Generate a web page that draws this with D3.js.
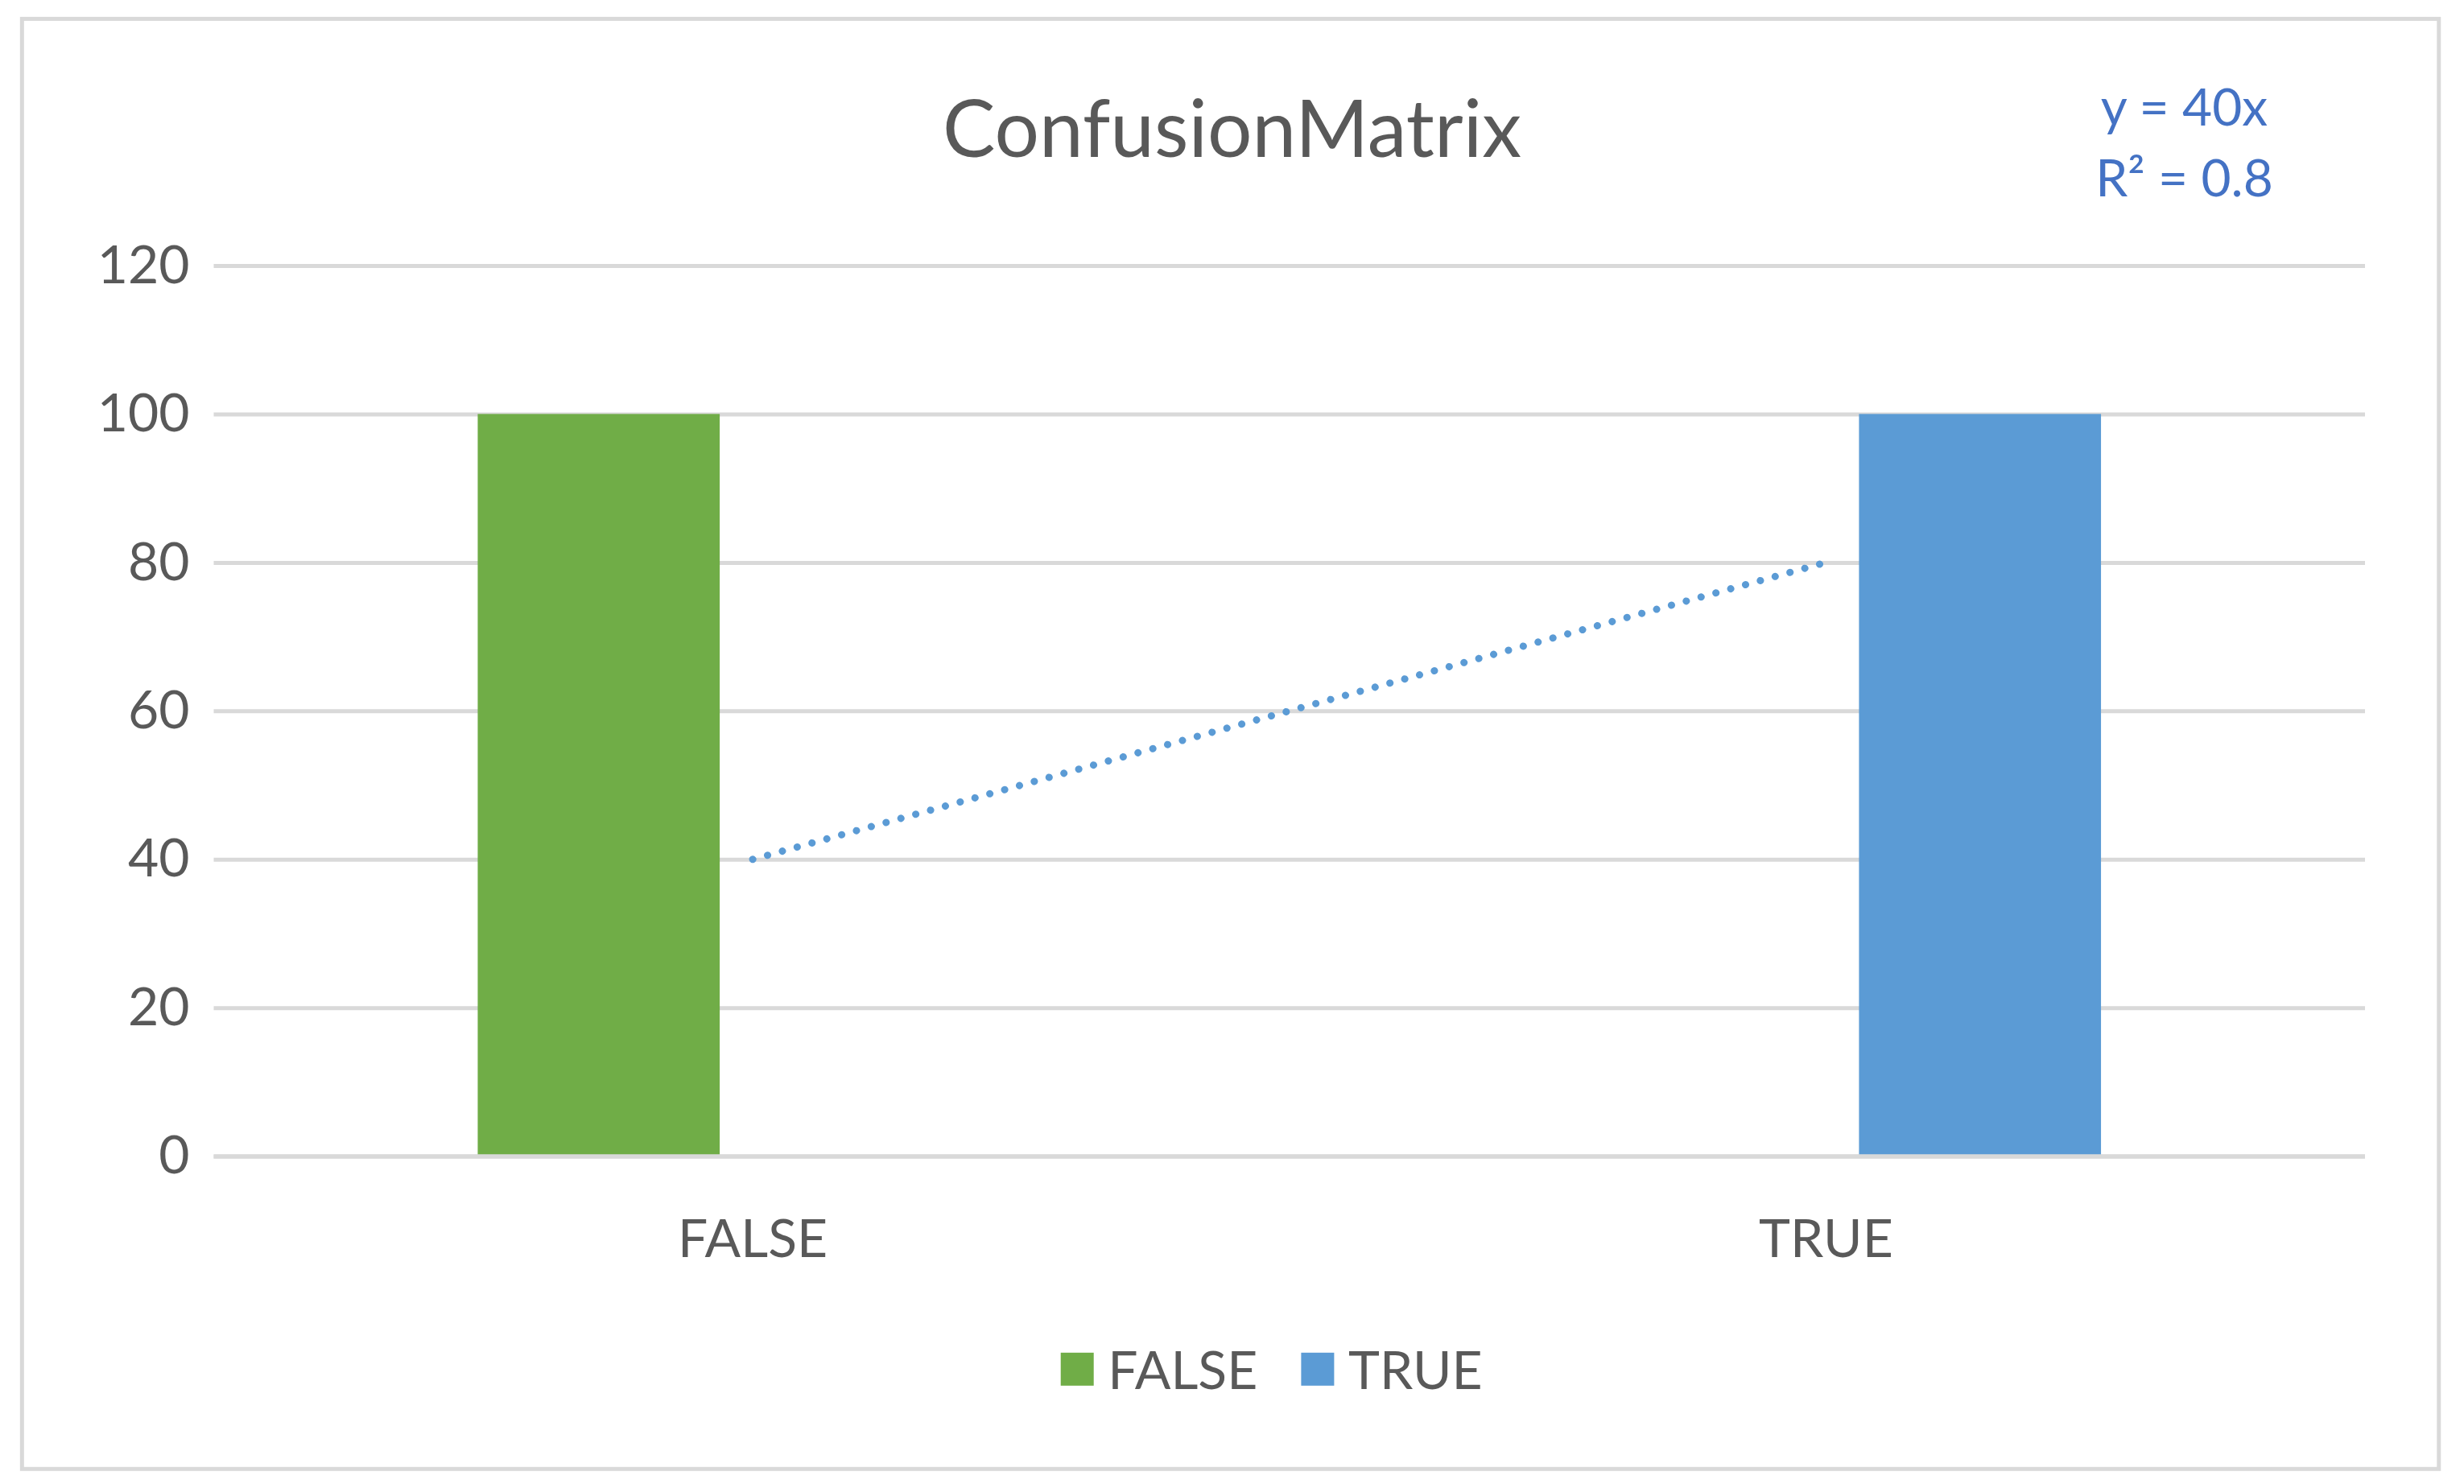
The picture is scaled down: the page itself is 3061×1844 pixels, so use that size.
<!DOCTYPE html>
<html><head><meta charset="utf-8">
<script src="https://cdn.jsdelivr.net/npm/d3@7"></script>
<style>body{margin:0;background:#fff}svg{display:block}</style>
</head><body>
<script>
const categories = ["FALSE", "TRUE"];
const seriesNames = ["FALSE", "TRUE"];
const seriesColors = ["#70ad47", "#5b9bd5"];
const falseValues = [100, 0];
const trueValues = [0, 100];
const yTicks = [0, 20, 40, 60, 80, 100, 120];
const trendX = [1, 2];
const trendSlope = 40;
const eqLines = ["y = 40x", "R² = 0.8"];
const titleText = "ConfusionMatrix";

const W = 3061, H = 1844, k = W / 1568;
const font = "Lato, 'Open Sans', sans-serif";
const svg = d3.select("body").append("svg").attr("width", W).attr("height", H);
svg.append("rect").attr("x", 14*k).attr("y", 12*k).attr("width", (1552-14)*k).attr("height", (935-12)*k)
  .attr("fill", "#fff").attr("stroke", "#d9d9d9").attr("stroke-width", 5);

const L = 136*k, R = 1505*k, T = 169*k, B = 736*k;
const y = d3.scaleLinear().domain([0, 120]).range([B, T]);
const x = d3.scaleBand().domain(categories).range([L, R]).paddingInner(0).paddingOuter(0);
// category centers ~479 and ~1162 displayed
const xc = d3.scaleLinear().domain([1, 2]).range([479*k, 1162*k]);

const yAxis = d3.axisLeft(y).tickValues(yTicks).tickSize(-(R - L)).tickPadding(30);
const ga = svg.append("g").attr("transform", `translate(${L},0)`).call(yAxis);
ga.select(".domain").remove();
ga.selectAll("line").attr("stroke", "#d9d9d9").attr("stroke-width", 5);
ga.selectAll("text").attr("font-family", font).attr("font-size", 66).attr("fill", "#595959");

const barW = 154*k, gap = 21*k;
const series = [falseValues, trueValues];
series.forEach((vals, s) => {
  svg.append("g").selectAll("rect").data(vals).join("rect")
    .attr("x", (d, i) => s === 0 ? xc(i+1) - gap - barW : xc(i+1) + gap)
    .attr("y", d => y(d)).attr("width", barW)
    .attr("height", d => y(0) - y(d)).attr("fill", seriesColors[s]);
});
// redraw baseline over bars
svg.append("line").attr("x1", L).attr("x2", R).attr("y1", y(0)).attr("y2", y(0))
  .attr("stroke", "#d9d9d9").attr("stroke-width", 5);

// category labels
svg.append("g").selectAll("text").data(categories).join("text")
  .attr("x", (d, i) => xc(i+1)).attr("y", 800*k).attr("text-anchor", "middle")
  .attr("font-family", font).attr("font-size", 66).attr("fill", "#595959").text(d => d);

// trendline
svg.append("path").datum(trendX)
  .attr("d", d3.line().x(d => xc(d)).y(d => y(trendSlope * d)))
  .attr("stroke", "#5b9bd5").attr("stroke-width", 9).attr("fill", "none")
  .attr("stroke-dasharray", "0.1 19").attr("stroke-linecap", "round");

svg.append("text").attr("x", 784*k).attr("y", 100*k).attr("text-anchor", "middle")
  .attr("font-family", font).attr("font-size", 98).attr("fill", "#595959").text(titleText);

svg.append("g").selectAll("text").data(eqLines).join("text")
  .attr("x", 1390*k).attr("y", (d, i) => (80 + i*45)*k).attr("text-anchor", "middle")
  .attr("font-family", font).attr("font-size", 64).attr("fill", "#4472c4").text(d => d);

// legend
const legX = [675*k, 828*k];
seriesNames.forEach((n, i) => {
  svg.append("rect").attr("x", legX[i]).attr("y", 861*k).attr("width", 21*k).attr("height", 21*k).attr("fill", seriesColors[i]);
  svg.append("text").attr("x", legX[i] + 30*k).attr("y", 884*k).attr("font-family", font)
    .attr("font-size", 66).attr("fill", "#595959").text(n);
});
</script>
</body></html>
